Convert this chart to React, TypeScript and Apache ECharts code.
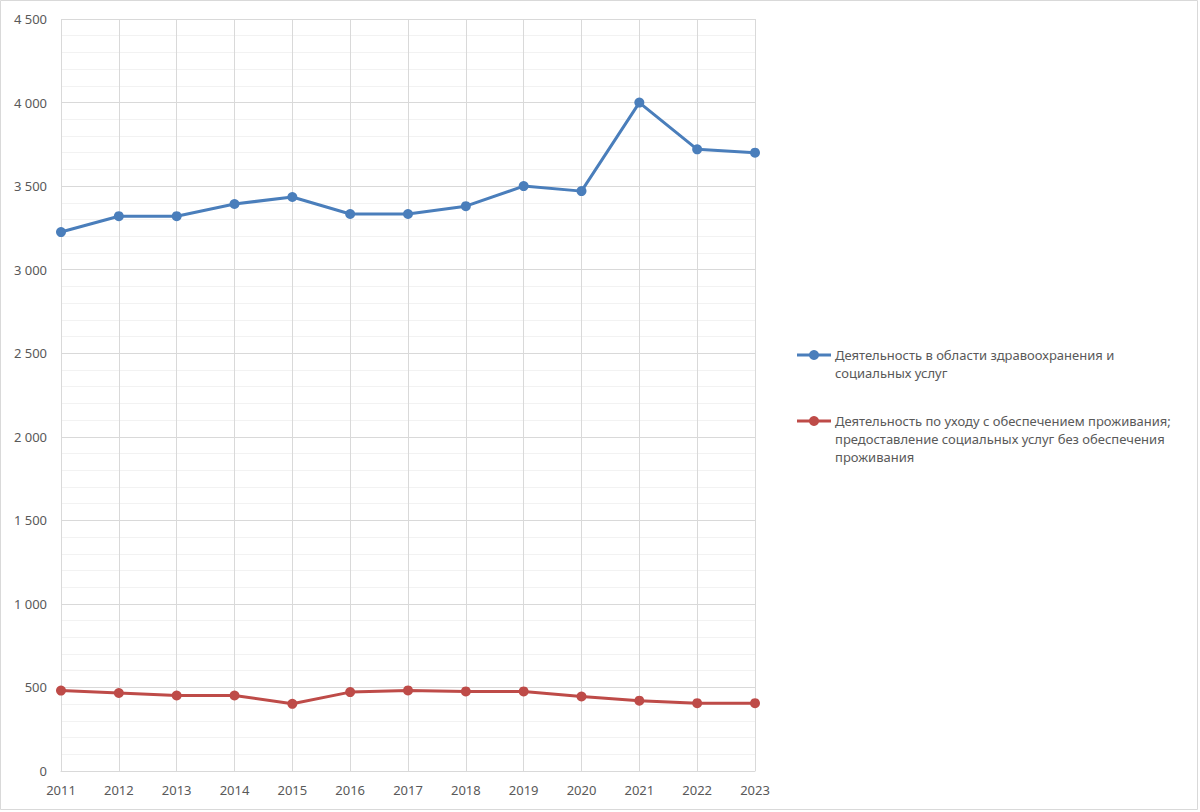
import React, { useEffect, useRef } from "react";
import * as echarts from "echarts";

const years = ["2011", "2012", "2013", "2014", "2015", "2016", "2017", "2018", "2019", "2020", "2021", "2022", "2023"];
const healthValues = [3225, 3320, 3320, 3393, 3435, 3333, 3333, 3380, 3500, 3470, 4000, 3720, 3700];
const careValues = [481, 467, 452, 452, 402, 472, 482, 476, 476, 446, 421, 406, 406];
const seriesNames = [
  "Деятельность в области здравоохранения и социальных услуг",
  "Деятельность по уходу с обеспечением проживания; предоставление социальных услуг без обеспечения проживания",
];
const legendLines = [
  ["Деятельность в области здравоохранения и", "социальных услуг"],
  ["Деятельность по уходу с обеспечением проживания;", "предоставление социальных услуг без обеспечения", "проживания"],
];
const colors = ["#4a7ebb", "#be4b48"];

const FONT = "'Noto Sans', sans-serif";
const TEXT = "#595959";

export default function App() {
  const ref = useRef<HTMLDivElement>(null);
  useEffect(() => {
    document.body.style.margin = "0";
    const chart = echarts.init(ref.current!, null, { renderer: "svg" });
    const legendGraphics: any[] = [];
    const legendTops = [355, 421];
    legendLines.forEach((lines, i) => {
      const y = legendTops[i];
      legendGraphics.push({
        type: "line",
        shape: { x1: 797, y1: y, x2: 831, y2: y },
        style: { stroke: colors[i], lineWidth: 3 },
      });
      legendGraphics.push({
        type: "circle",
        shape: { cx: 814, cy: y, r: 5 },
        style: { fill: colors[i] },
      });
      lines.forEach((t, j) => {
        legendGraphics.push({
          type: "text",
          x: 835,
          y: y + j * 18,
          style: {
            text: t,
            fill: TEXT,
            font: `13px ${FONT}`,
            textVerticalAlign: "middle",
          },
        });
      });
    });
    chart.setOption({
      animation: false,
      textStyle: { fontFamily: FONT },
      grid: { left: 61, right: 445, top: 19, bottom: 41, containLabel: false },
      xAxis: {
        type: "category",
        data: years,
        boundaryGap: false,
        axisLine: { show: true, lineStyle: { color: "#d9d9d9", width: 1 } },
        axisTick: { show: false },
        axisLabel: { color: TEXT, fontSize: 13, margin: 12, fontFamily: FONT },
        splitLine: { show: true, lineStyle: { color: "#d9d9d9", width: 1 } },
      },
      yAxis: {
        type: "value",
        min: 0,
        max: 4500,
        interval: 500,
        axisLine: { show: false },
        axisTick: { show: false },
        axisLabel: {
          color: TEXT,
          fontSize: 13,
          margin: 14,
          fontFamily: FONT,
          formatter: (v: number) => String(v).replace(/\B(?=(\d{3})+(?!\d))/g, " "),
        },
        splitLine: { show: true, lineStyle: { color: "#d9d9d9", width: 1 } },
        minorTick: { show: false, splitNumber: 5 },
        minorSplitLine: { show: true, lineStyle: { color: "#f2f2f2", width: 1 } },
      },
      series: [
        {
          name: seriesNames[0],
          type: "line",
          data: healthValues,
          symbol: "circle",
          symbolSize: 10,
          itemStyle: { color: colors[0] },
          lineStyle: { color: colors[0], width: 3 },
        },
        {
          name: seriesNames[1],
          type: "line",
          data: careValues,
          symbol: "circle",
          symbolSize: 10,
          itemStyle: { color: colors[1] },
          lineStyle: { color: colors[1], width: 3 },
        },
      ],
      graphic: [
        {
          type: "rect",
          shape: { x: 0.5, y: 0.5, width: 1197, height: 809 },
          style: { fill: "none", stroke: "#d9d9d9", lineWidth: 1 },
          silent: true,
        },
        ...legendGraphics,
      ],
    });
    return () => chart.dispose();
  }, []);
  return <div ref={ref} style={{ width: 1200, height: 812, position: "absolute", left: 0, top: 0 }} />;
}
